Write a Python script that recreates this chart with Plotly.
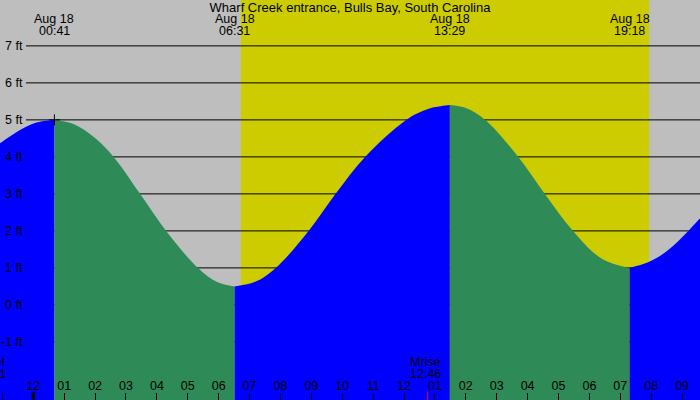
import pandas as pd
import plotly.graph_objects as go

# tide curve: hours from midnight Aug 18, height in ft
curve_hours = [-1.3, -1.08, -0.43, 0.10, 0.683, 1.3, 2.0, 2.60, 3.46, 4.30, 5.33, 5.95,
               6.517, 7.2, 7.85, 8.91, 9.78, 10.74, 12.07, 12.8, 13.483, 14.0, 14.63,
               15.70, 16.56, 17.47, 18.4, 19.3, 19.9, 20.5, 21.2, 21.75]
curve_ft = [4.25, 4.37, 4.73, 4.93, 5.0, 4.89, 4.51, 4.0, 3.0, 2.0, 1.0, 0.62,
            0.5, 0.63, 1.0, 2.0, 3.0, 4.0, 5.0, 5.30, 5.40, 5.32, 5.0,
            4.0, 3.0, 2.0, 1.25, 1.0, 1.15, 1.45, 2.0, 2.5]

tide_times = ["00:41", "06:31", "13:29", "19:18"]
high_mark_time = "00:41"
high_mark_ft = 5.0
sunrise = "06:43"
sunset = "19:56"
moonrise = "12:46"
moonset = "22:41"          # on Aug 17
window_hours = [-1.078, 21.58]
ft_range = [-2.57, 8.24]
ft_ticks = [-1, 0, 1, 2, 3, 4, 5, 6, 7]

DAY = pd.Timestamp("2024-08-18")
FONT = "Liberation Sans"
GRAY = "#bebebe"
DAYLIGHT = "#cccc00"
RISING = "#0000ff"
FALLING = "#2e8b57"


def at(h):
    return DAY + pd.to_timedelta(h, unit="h")


def clock(s, day=DAY):
    hh, mm = s.split(":")
    return day + pd.Timedelta(hours=int(hh), minutes=int(mm))


# split the curve into rising / falling pieces at each turning point
segs = []
cur = [0]
for i in range(1, len(curve_ft)):
    cur.append(i)
    if i < len(curve_ft) - 1 and (curve_ft[i] - curve_ft[i - 1]) * (curve_ft[i + 1] - curve_ft[i]) < 0:
        segs.append(cur)
        cur = [i]
segs.append(cur)

fig = go.Figure()
floor = ft_range[0] - 1
for seg in segs:
    xs = [at(curve_hours[i]) for i in seg]
    ys = [curve_ft[i] for i in seg]
    c = RISING if ys[-1] > ys[0] else FALLING
    fig.add_trace(go.Scatter(x=[xs[0], xs[-1]], y=[floor, floor], mode="lines",
                             line=dict(width=0), hoverinfo="skip", showlegend=False))
    fig.add_trace(go.Scatter(x=xs, y=ys, mode="lines", line=dict(width=0, shape="spline", color=c),
                             fill="tonexty", fillcolor=c, showlegend=False))

fig.add_trace(go.Scatter(x=[clock(high_mark_time)], y=[high_mark_ft], mode="markers",
                         marker=dict(symbol="cross-thin", size=8, line=dict(width=1, color="black")),
                         showlegend=False))

shapes = [dict(type="rect", xref="x", yref="paper", x0=clock(sunrise), x1=clock(sunset), y0=0, y1=1,
               fillcolor=DAYLIGHT, line=dict(width=0), layer="below")]
for v in ft_ticks:
    shapes.append(dict(type="line", xref="paper", yref="y", x0=26 / 700, x1=1, y0=v, y1=v,
                       line=dict(color="black", width=1), layer="below"))
shapes.append(dict(type="line", xref="x", yref="paper", x0=DAY, x1=DAY, y0=0, y1=0.021,
                   line=dict(color="black", width=3)))
shapes.append(dict(type="line", xref="x", yref="paper", x0=clock(moonrise), x1=clock(moonrise),
                   y0=0, y1=0.021, line=dict(color="red", width=1)))

ann = []
for v in ft_ticks:
    ann.append(dict(x=24.5 / 700, y=v, xref="paper", yref="y", text=f"{v} ft",
                    showarrow=False, xanchor="right", yanchor="middle"))
for t in tide_times:
    ann.append(dict(x=clock(t), y=1 - 19 / 400, xref="x", yref="paper", text="Aug 18",
                    showarrow=False, yanchor="middle"))
    ann.append(dict(x=clock(t), y=1 - 31.5 / 400, xref="x", yref="paper", text=t,
                    showarrow=False, yanchor="middle"))
ann.append(dict(x=clock(moonrise), xshift=15, y=1 - 361.5 / 400, xref="x", yref="paper",
                text="Mrise", showarrow=False, xanchor="right", yanchor="middle"))
ann.append(dict(x=clock(moonrise), xshift=15, y=1 - 373.5 / 400, xref="x", yref="paper",
                text=moonrise, showarrow=False, xanchor="right", yanchor="middle"))
x0, x1 = at(window_hours[0]), at(window_hours[1])
mset = clock(moonset, DAY - pd.Timedelta(days=1))
mset_frac = (mset - x0) / (x1 - x0)
ann.append(dict(x=mset_frac, xshift=15, y=1 - 361.5 / 400, xref="paper", yref="paper",
                text="Mset", showarrow=False, xanchor="right", yanchor="middle"))
ann.append(dict(x=mset_frac, xshift=15, y=1 - 373.5 / 400, xref="paper", yref="paper",
                text=moonset, showarrow=False, xanchor="right", yanchor="middle"))

fig.update_layout(
    width=700, height=400,
    margin=dict(l=0, r=0, t=0, b=0),
    paper_bgcolor=GRAY, plot_bgcolor=GRAY,
    font=dict(family=FONT, size=12.5, color="black"),
    title=dict(text="Wharf Creek entrance, Bulls Bay, South Carolina", x=0.5, y=0.993,
               xanchor="center", yanchor="top", pad=dict(t=0, b=0),
               font=dict(family=FONT, size=13, color="black")),
    shapes=shapes, annotations=ann, showlegend=False,
    xaxis=dict(type="date", range=[x0, x1], dtick=3600000, tick0=DAY, tickformat="%I",
               ticks="inside", ticklen=7, tickcolor="black", tickwidth=1,
               tickfont=dict(family=FONT, size=12.5, color="black"),
               ticklabelposition="inside", showgrid=False, zeroline=False, showline=False,
               automargin=False, fixedrange=True),
    yaxis=dict(range=ft_range, showticklabels=False, ticks="", showgrid=False,
               zeroline=False, showline=False, automargin=False, fixedrange=True),
)

fig.write_html("out.html", config={"displayModeBar": False},
               post_script="document.body.style.margin = '0';")
